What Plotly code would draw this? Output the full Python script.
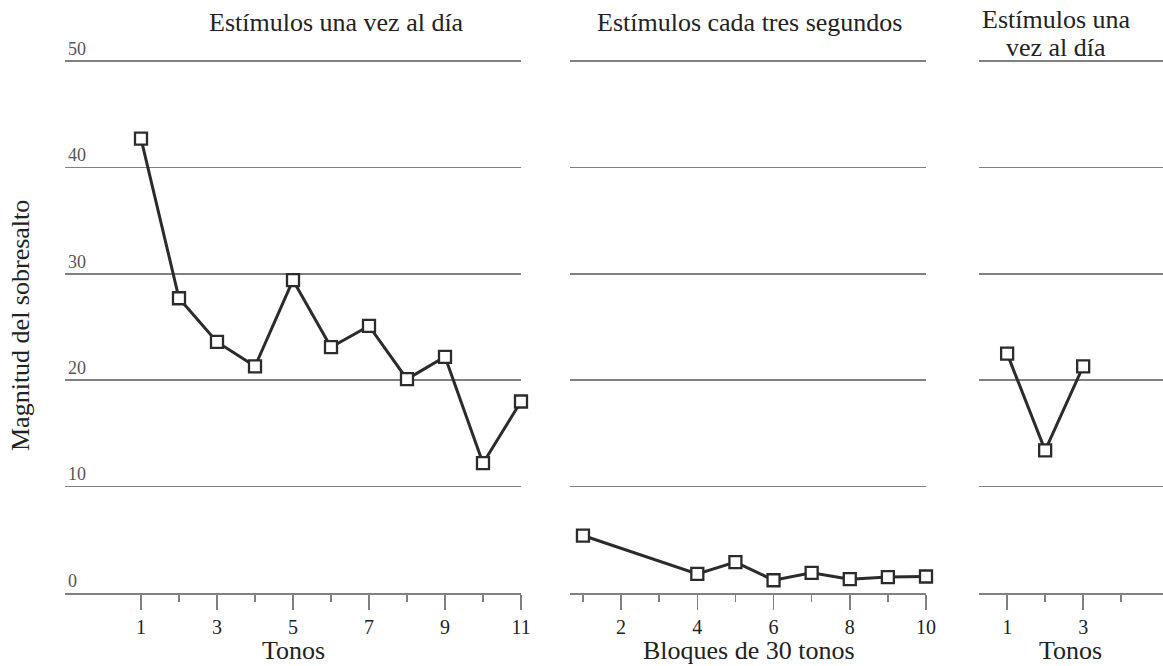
import plotly.graph_objects as go

# ---- data ----
tonos_x = [1, 2, 3, 4, 5, 6, 7, 8, 9, 10, 11]
tonos_y = [42.7, 27.7, 23.6, 21.3, 29.4, 23.1, 25.1, 20.1, 22.2, 12.2, 18.0]

bloques_x = [1, 4, 5, 6, 7, 8, 9, 10]
bloques_y = [5.4, 1.8, 2.9, 1.2, 1.9, 1.3, 1.5, 1.55]

retest_x = [1, 2, 3]
retest_y = [22.5, 13.4, 21.3]

y_ticks = [0, 10, 20, 30, 40, 50]
y_ticktext = ["0", "10", "20", "30", "40", "50"]

p1_major = [1, 3, 5, 7, 9, 11]
p1_minor = [2, 4, 6, 8, 10]
p2_major = [2, 4, 6, 8, 10]
p2_minor = [1, 3, 5, 7, 9]
p3_major = [1, 3]
p3_minor = [2, 4]

titles = ["Estímulos una vez al día", "Estímulos cada tres segundos"]
title3 = ["Estímulos una", "vez al día"]
xtitles = ["Tonos", "Bloques de 30 tonos", "Tonos"]
ytitle = "Magnitud del sobresalto"

# ---- style ----
W, H = 1163, 666
FONT = "Liberation Serif"
LINE = "#2b2b2b"
GRID = "#808080"
TXT = "#222222"

def px_x(px):
    return px / W

def px_y(py):
    return (H - py) / H

Y0_PX, Y50_PX = 593, 61
YMAX = 54
ppu = (Y0_PX - Y50_PX) / 50.0
dom1 = [px_x(65), px_x(521)]
dom2 = [px_x(570), px_x(926)]
dom3 = [px_x(979), 1.0]
ydom = [px_y(Y0_PX), px_y(Y0_PX - YMAX * ppu)]

fig = go.Figure()

marker = dict(symbol="square", size=12, color="white",
              line=dict(color=LINE, width=2.3))
for xs, ys, xa, ya in [(tonos_x, tonos_y, "x", "y"),
                       (bloques_x, bloques_y, "x2", "y2"),
                       (retest_x, retest_y, "x3", "y3")]:
    fig.add_trace(go.Scatter(x=xs, y=ys, xaxis=xa, yaxis=ya,
                             mode="lines+markers",
                             line=dict(color=LINE, width=3),
                             marker=marker, cliponaxis=False,
                             showlegend=False, hoverinfo="skip"))

def xaxis(domain, rng, major, minor):
    return dict(domain=domain, range=rng,
                showgrid=False, zeroline=False,
                showline=True, linecolor=GRID, linewidth=2,
                ticks="outside", ticklen=15, tickwidth=1.5, tickcolor=GRID,
                tickmode="array", tickvals=major,
                ticktext=[str(v) for v in major],
                tickfont=dict(family=FONT, size=20, color=TXT),
                minor=dict(tickmode="array", tickvals=minor, ticks="outside",
                           ticklen=7, tickwidth=1.5, tickcolor=GRID,
                           showgrid=False),
                automargin=False, fixedrange=True)

def yaxis(show_labels):
    d = dict(domain=ydom, range=[0, YMAX], showgrid=True, gridcolor=GRID,
             gridwidth=1.6, zeroline=False, showline=False, ticks="",
             tickmode="array", tickvals=y_ticks, ticktext=y_ticktext,
             showticklabels=show_labels, automargin=False, fixedrange=True)
    if show_labels:
        d.update(ticklabelposition="inside top",
                 tickfont=dict(family=FONT, size=18, color="#555555"))
    return d

fig.update_layout(
    width=W, height=H,
    margin=dict(l=0, r=0, t=0, b=0),
    paper_bgcolor="white", plot_bgcolor="white",
    xaxis=dict(xaxis(dom1, [-1, 11], p1_major, p1_minor), anchor="y"),
    xaxis2=dict(xaxis(dom2, [0.66, 10], p2_major, p2_minor), anchor="y2"),
    xaxis3=dict(xaxis(dom3, [0.26, 5.1], p3_major, p3_minor), anchor="y3"),
    yaxis=dict(yaxis(True), anchor="x"),
    yaxis2=dict(yaxis(False), anchor="x2"),
    yaxis3=dict(yaxis(False), anchor="x3"),
    font=dict(family=FONT, color=TXT),
)

ann = []
tfont = dict(family=FONT, size=26, color=TXT)
# panel titles
ann.append(dict(text=titles[0], x=px_x(336), y=px_y(22), xref="paper", yref="paper",
                xanchor="center", yanchor="middle", showarrow=False, font=tfont))
ann.append(dict(text=titles[1], x=px_x(749), y=px_y(22), xref="paper", yref="paper",
                xanchor="center", yanchor="middle", showarrow=False, font=tfont))
ann.append(dict(text=title3[0], x=px_x(1056), y=px_y(20), xref="paper", yref="paper",
                xanchor="center", yanchor="middle", showarrow=False, font=tfont))
ann.append(dict(text=title3[1], x=px_x(1056), y=px_y(47), xref="paper", yref="paper",
                xanchor="center", yanchor="middle", showarrow=False, font=tfont))
# x-axis titles
for t, cx in zip(xtitles, [293, 749, 1070]):
    ann.append(dict(text=t, x=px_x(cx), y=px_y(650), xref="paper", yref="paper",
                    xanchor="center", yanchor="middle", showarrow=False, font=tfont))
# y-axis title
ann.append(dict(text=ytitle, x=px_x(20), y=px_y(326), xref="paper", yref="paper",
                xanchor="center", yanchor="middle", textangle=-90,
                showarrow=False, font=tfont))
fig.update_layout(annotations=ann)

fig.write_html("out.html", config={"displayModeBar": False, "staticPlot": True},
               post_script="document.body.style.margin='0';")
